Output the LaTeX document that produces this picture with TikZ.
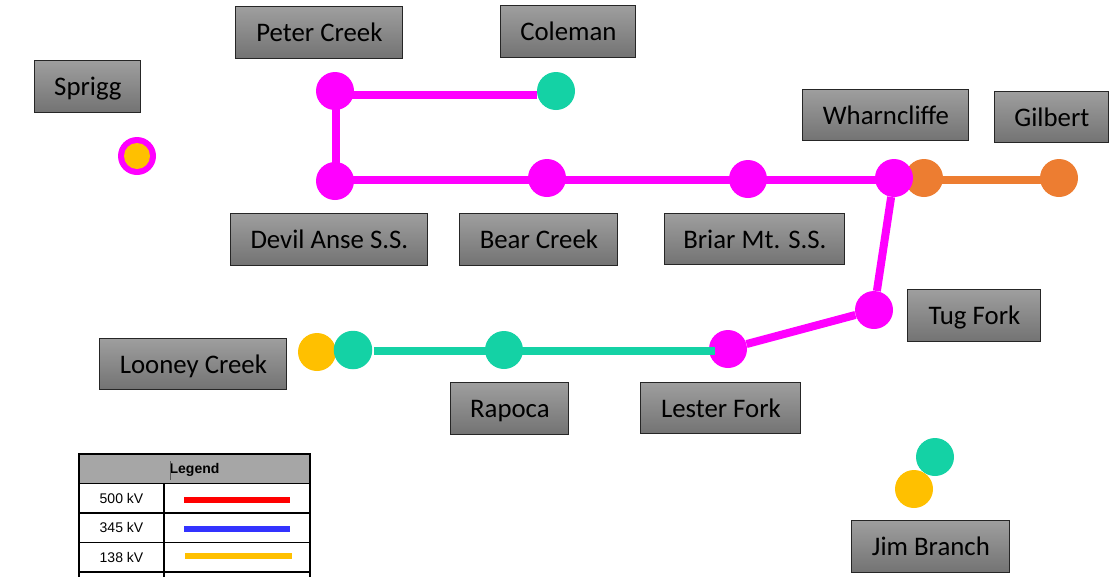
\documentclass[tikz,border=0pt]{standalone}
\usepackage{fontspec}
\setmainfont{Carlito}
\newfontfamily\legendfont{Liberation Sans}
\usepackage{tikz}
\usetikzlibrary{positioning}
\usetikzlibrary{calc}
\definecolor{busmagenta}{HTML}{FF00FF}
\definecolor{busteal}{HTML}{14D2A5}
\definecolor{busorange}{HTML}{ED7D31}
\definecolor{busyellow}{HTML}{FFC000}
\definecolor{busblue}{HTML}{3333FF}
\definecolor{legendgray}{HTML}{A6A6A6}
\tikzstyle{namebox}=[
        draw=black!85,
        line width=1pt,
        top color=black!38,
        bottom color=black!55,
        text=black,
        inner sep=0pt,
        minimum height=51.5pt,
        text height=19pt,
        text depth=0.5pt,
        xshift=-0.1pt,
        yshift=-0.2pt,
        font=\fontsize{26.8}{30}\selectfont
]
\tikzstyle{bus}=[circle,inner sep=0pt,minimum size=38pt]
\tikzstyle{tie}=[line width=8pt]
\tikzstyle{cell}=[draw=black,line width=1.5pt,inner sep=0pt,text height=12pt,text depth=2pt,font=\legendfont\fontsize{14}{16}\selectfont]
\tikzstyle{key}=[line width=6pt]

\begin{document}
\begin{tikzpicture}[x=1pt,y=-1pt]
\useasboundingbox (0,0) rectangle (1115,576);
%Buses under the lines
\node[bus,fill=busorange] (wharnorange) at (924,178) {};
\node[bus,fill=busorange] (gilbertbus) at (1059,178) {};
\node[bus,fill=busyellow] (looneyyellow) at (317,352) {};
\node[bus,fill=busmagenta] (lesterbus) at (728,349) {};
\node[bus,fill=busmagenta] (peterbus) at (335,91) {};
\node[bus,fill=busmagenta] (devilbus) at (335,181) {};
\node[bus,fill=busmagenta] (bearbus) at (547,178) {};
\node[bus,fill=busmagenta] (briarbus) at (748,179) {};
\node[bus,fill=busmagenta] (wharnbus) at (894,178) {};
\node[bus,fill=busmagenta] (tugbus) at (874,310) {};
\node[bus,fill=busteal] (colemanbus) at (556,91) {};
\node[bus,fill=busteal,minimum size=38.5pt] (looneyteal) at (353,350) {};
%Drawing Edges
\draw[tie,busorange] ([yshift=-2pt]wharnorange.center) -- ([yshift=-2pt]gilbertbus.center);
\draw[tie,busmagenta] ([yshift=-4pt]peterbus.center) -- ([yshift=-4pt]colemanbus.west);
\draw[tie,busmagenta] ([xshift=1pt]peterbus.center) -- ([xshift=1pt]devilbus.center);
\draw[tie,busmagenta] ([yshift=1pt]devilbus.center) -- ([yshift=-2pt]wharnbus.center);
\draw[tie,busmagenta] (wharnbus) -- (tugbus);
\draw[tie,busmagenta] (tugbus) -- (lesterbus);
\draw[tie,busteal] ([xshift=1.5pt,yshift=-1pt]looneyteal.east) -- ([xshift=-13pt,yshift=-2pt]lesterbus.center);
\node[bus,fill=busteal] (rapocabus) at (504,350) {};
\node[bus,fill=busmagenta] (spriggbus) at (137,156) {};
\node[circle,fill=busyellow,inner sep=0pt,minimum size=26pt] (spriggin) at (spriggbus) {};
\node[bus,fill=busteal] (jimteal) at (935,457) {};
\node[bus,fill=busyellow] (jimyellow) at (914,489) {};
%Names
\node[namebox,minimum width=167pt] (peter) at (319.5,32.5) {Peter Creek};
\node[namebox,minimum width=135pt] (coleman) at (568.5,31.5) {Coleman};
\node[namebox,minimum width=106pt] (sprigg) at (88,86.5) {Sprigg};
\node[namebox,minimum width=166pt] (wharncliffe) at (886,115) {Wharncliffe};
\node[namebox,minimum width=114pt] (gilbert) at (1052,117) {Gilbert};
\node[namebox,minimum width=197pt] (devil) at (329.5,239.5) {Devil Anse S.S.};
\node[namebox,minimum width=158pt] (bear) at (539,239.5) {Bear Creek};
\node[namebox,minimum width=180pt] (briar) at (755,239) {Briar Mt. S.S.};
\node[namebox,minimum width=133pt] (tug) at (974.5,315.5) {Tug Fork};
\node[namebox,minimum width=187pt] (looney) at (193.5,364) {Looney Creek};
\node[namebox,minimum width=118pt] (rapoca) at (510,408.5) {Rapoca};
\node[namebox,minimum width=160pt] (lester) at (721,408) {Lester Fork};
\node[namebox,minimum width=158pt] (jim) at (931,546.5) {Jim Branch};
%Legend
\node[cell,fill=legendgray,minimum width=231pt,minimum height=29.5pt,font=\legendfont\bfseries\fontsize{14}{16}\selectfont] (legendhead) at (194.5,468.7) {Legend};
\node[cell,minimum width=85pt,minimum height=29.5pt] (cella) at (121.5,498) {500 kV};
\node[cell,minimum width=146pt,minimum height=29.5pt] (keya) at (237,498) {};
\node[cell,minimum width=85pt,minimum height=29.5pt] (cellb) at (121.5,527.5) {345 kV};
\node[cell,minimum width=146pt,minimum height=29.5pt] (keyb) at (237,527.5) {};
\node[cell,minimum width=85pt,minimum height=29.5pt] (cellc) at (121.5,557) {138 kV};
\node[cell,minimum width=146pt,minimum height=29.5pt] (keyc) at (237,557) {};
\node[cell,minimum width=85pt,minimum height=29.5pt] (celld) at (121.5,586.5) {};
\node[cell,minimum width=146pt,minimum height=29.5pt] (keyd) at (237,586.5) {};
\draw[black!65,line width=0.7pt] (170,461) -- (170,480);
\draw[key,red] (184,499.5) -- (290,499.5);
\draw[key,busblue] (184,528.5) -- (290,528.5);
\draw[key,busyellow] (185,556) -- (292,556);
\end{tikzpicture}
\end{document}
